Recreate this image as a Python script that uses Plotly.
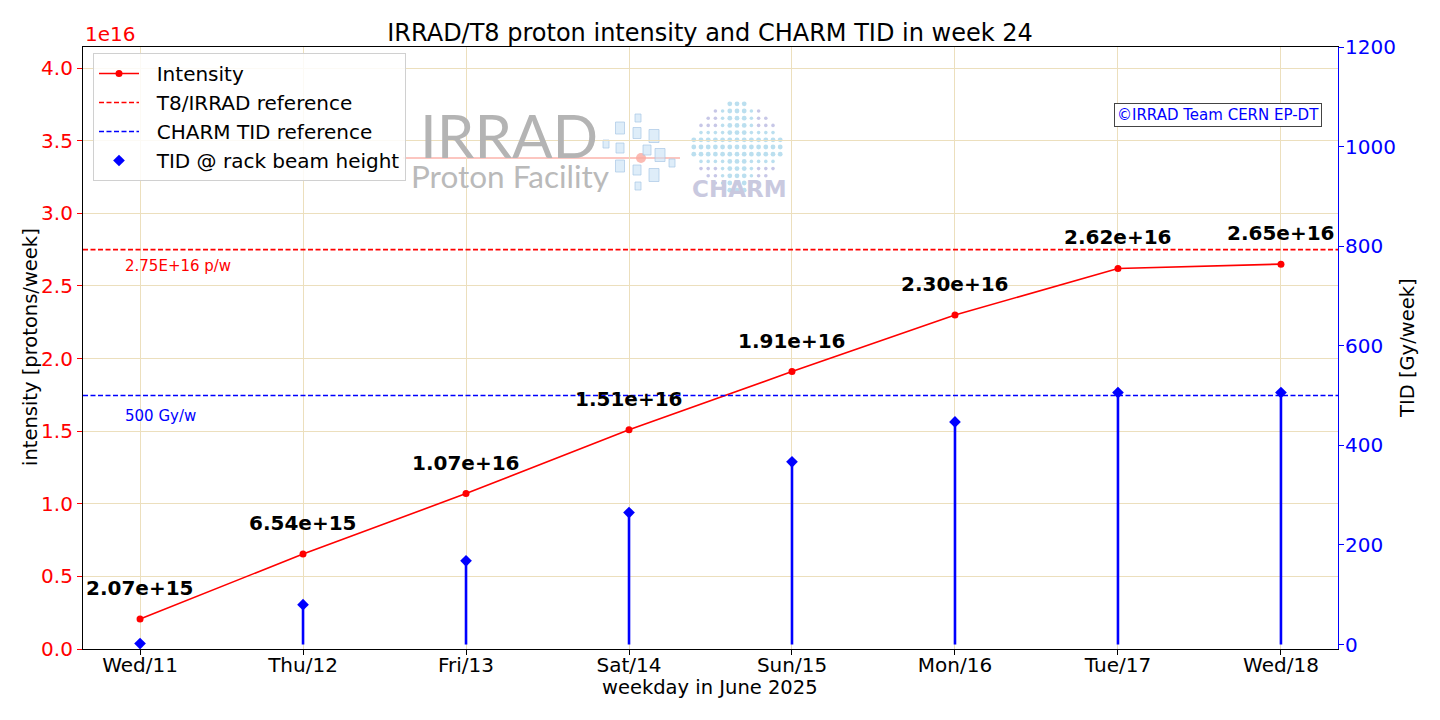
import plotly.graph_objects as go

# ---------------- data ----------------
days = ["Wed/11", "Thu/12", "Fri/13", "Sat/14", "Sun/15", "Mon/16", "Tue/17", "Wed/18"]
intensity = [2.07e15, 6.54e15, 1.07e16, 1.51e16, 1.91e16, 2.30e16, 2.62e16, 2.65e16]
tid = [2, 80, 168, 265, 367, 447, 506, 506]
intensity_ref = 2.75e16
tid_ref = 500
intensity_ref_label = "2.75E+16 p/w"
tid_ref_label = "500 Gy/w"
left_ticks = [0.0, 0.5, 1.0, 1.5, 2.0, 2.5, 3.0, 3.5, 4.0]
left_ticklabels = ["0.0", "0.5", "1.0", "1.5", "2.0", "2.5", "3.0", "3.5", "4.0"]
right_ticks = [0, 200, 400, 600, 800, 1000, 1200]
scale = 1e16

# ---------------- layout helpers ----------------
W, H = 1440, 720
L, R, T, B = 83, 1338, 47, 649


def px(x):
    return (x - L) / (R - L)


def py(y):
    return (B - y) / (B - T)


FONT = "DejaVu Sans"
GRID = "#ecdfbd"
DASH = "5px,2.5px"
PAD = "\u00a0\u00a0"

fig = go.Figure()

fig.add_trace(go.Scatter(
    x=days, y=intensity, mode="lines+markers", name=PAD + "Intensity",
    line=dict(color="red", width=1.6), marker=dict(color="red", size=7),
    yaxis="y", legendgroup="a",
))
# legend-only entries for reference lines
fig.add_trace(go.Scatter(
    x=[None], y=[None], mode="lines", name=PAD + "T8/IRRAD reference",
    line=dict(color="red", width=1.6, dash=DASH), yaxis="y", legendgroup="b",
))
fig.add_trace(go.Scatter(
    x=[None], y=[None], mode="lines", name=PAD + "CHARM TID reference",
    line=dict(color="blue", width=1.6, dash=DASH), yaxis="y", legendgroup="c",
))
fig.add_trace(go.Scatter(
    x=days, y=tid, mode="markers", name=PAD + "TID @ rack beam height",
    marker=dict(color="blue", size=9, symbol="diamond"),
    error_y=dict(type="data", symmetric=False, array=[0] * len(tid),
                 arrayminus=tid, width=0, thickness=2.6, color="blue"),
    yaxis="y2", legendgroup="d",
))

shapes = [
    dict(type="line", xref="paper", x0=0, x1=1, yref="y", y0=intensity_ref, y1=intensity_ref,
         line=dict(color="red", width=1.6, dash=DASH), layer="above"),
    dict(type="line", xref="paper", x0=0, x1=1, yref="y2", y0=tid_ref, y1=tid_ref,
         line=dict(color="blue", width=1.6, dash=DASH), layer="above"),
]

annotations = []
for d, v in zip(days, intensity):
    annotations.append(dict(
        x=d, y=v, xref="x", yref="y", text=f"{v:.2e}", showarrow=False,
        yshift=31, font=dict(family=FONT, size=20, color="black", weight="bold"),
    ))

annotations += [
    dict(xref="paper", yref="y", x=px(123), y=intensity_ref, text=intensity_ref_label,
         showarrow=False, xanchor="left", yanchor="middle", yshift=-16,
         font=dict(family=FONT, size=15, color="red")),
    dict(xref="paper", yref="y2", x=px(123), y=tid_ref, text=tid_ref_label,
         showarrow=False, xanchor="left", yanchor="middle", yshift=-20,
         font=dict(family=FONT, size=15, color="blue")),
    dict(xref="paper", yref="paper", x=px(1218), y=py(114.5), text="©IRRAD Team CERN EP-DT",
         showarrow=False, xanchor="center", yanchor="middle",
         font=dict(family=FONT, size=15, color="blue"), bordercolor="#444444",
         borderwidth=1, borderpad=2, bgcolor="white"),
    dict(xref="paper", yref="paper", x=0, y=1, text="1e16", showarrow=False,
         xanchor="left", yanchor="bottom", yshift=-1,
         font=dict(family=FONT, size=20, color="red")),
    # axis titles
    dict(xref="paper", yref="paper", x=px(30), y=py(347), text="intensity [protons/week]",
         showarrow=False, textangle=-90, xanchor="center", yanchor="middle",
         font=dict(family=FONT, size=19.5, color="black")),
    dict(xref="paper", yref="paper", x=px(1407), y=py(348), text="TID [Gy/week]",
         showarrow=False, textangle=-90, xanchor="center", yanchor="middle",
         font=dict(family=FONT, size=19.5, color="black")),
    dict(xref="paper", yref="paper", x=px(710), y=py(687), text="weekday in June 2025",
         showarrow=False, xanchor="center", yanchor="middle",
         font=dict(family=FONT, size=19.5, color="black")),
    # logo text (watermark)
    dict(xref="paper", yref="paper", x=px(509), y=py(135), text="IRRAD", showarrow=False,
         xanchor="center", yanchor="middle", height=48,
         font=dict(family="Lato", size=60, color="#b4b4b4", weight=400)),
    dict(xref="paper", yref="paper", x=px(510), y=py(176), text="Proton Facility", showarrow=False,
         xanchor="center", yanchor="middle", height=32,
         font=dict(family="Lato", size=31.5, color="#bababa", weight=400)),
    dict(xref="paper", yref="paper", x=px(739), y=py(189), text="CHARM", showarrow=False,
         xanchor="center", yanchor="middle",
         font=dict(family=FONT, size=23, color="#c9c9df", weight="bold")),
]

# logo decoration: beam line + small tiles + dotted sphere
shapes.append(dict(type="line", xref="paper", yref="paper", x0=px(403), x1=px(680), y0=py(158), y1=py(158),
                   line=dict(color="rgba(250,160,150,0.6)", width=2), layer="below"))
shapes.append(dict(type="circle", xref="paper", yref="paper", x0=px(636), x1=px(646), y0=py(153), y1=py(163),
                   fillcolor="rgba(250,170,160,0.8)", line=dict(width=0), layer="below"))
tiles = [(620, 128, 9, 12), (638, 118, 6, 8), (654, 136, 10, 13), (637, 133, 8, 11), (606, 144, 6, 8),
         (620, 148, 8, 10), (660, 155, 10, 13), (620, 166, 9, 12), (637, 170, 8, 10), (654, 175, 10, 13),
         (672, 163, 6, 8), (638, 186, 6, 8), (647, 150, 8, 10)]
for (cx, cy, w, h) in tiles:
    shapes.append(dict(type="rect", xref="paper", yref="paper", x0=px(cx - w / 2), x1=px(cx + w / 2),
                       y0=py(cy + h / 2), y1=py(cy - h / 2), fillcolor="rgba(200,225,245,0.6)",
                       line=dict(color="rgba(170,200,230,0.7)", width=1), layer="below"))
scx, scy, srad = 737, 147, 46
for i in range(-6, 7):
    for j in range(-6, 7):
        dx, dy = i * 7.2, j * 7.2
        if dx * dx + dy * dy > srad * srad * 0.95:
            continue
        r = 2.4 if (abs(i) < 2 or abs(j) < 2) else 1.8
        col = "rgba(170,215,235,0.8)" if (abs(i) < 3 or abs(j) < 3) else "rgba(185,185,225,0.8)"
        shapes.append(dict(type="circle", xref="paper", yref="paper",
                           x0=px(scx + dx - r), x1=px(scx + dx + r),
                           y0=py(scy + dy + r), y1=py(scy + dy - r),
                           fillcolor=col, line=dict(width=0), layer="below"))

fig.update_layout(
    width=W, height=H,
    margin=dict(l=L, r=W - R, t=T, b=H - B),
    paper_bgcolor="white", plot_bgcolor="white",
    font=dict(family=FONT, size=19, color="black"),
    title=dict(text="IRRAD/T8 proton intensity and CHARM TID in week 24",
               x=710 / W, xanchor="center",
               y=1 - 33 / H, yanchor="middle", yref="container",
               font=dict(family=FONT, size=24, color="black")),
    xaxis=dict(
        type="category", range=[-0.35, len(days) - 1 + 0.35],
        showgrid=True, gridcolor=GRID, gridwidth=1,
        showline=True, linecolor="black", linewidth=1.2, mirror=True,
        ticks="outside", ticklen=5, tickcolor="black", ticklabelstandoff=-7,
        tickfont=dict(family=FONT, size=20, color="black"),
        zeroline=False, automargin=False,
    ),
    yaxis=dict(
        range=[0, 4.145e16],
        tickvals=[t * scale for t in left_ticks], ticktext=left_ticklabels,
        showgrid=True, gridcolor=GRID, gridwidth=1,
        showline=True, linecolor="black", linewidth=1.2,
        ticks="outside", ticklen=5, tickcolor="red",
        tickfont=dict(family=FONT, size=20, color="red"),
        zeroline=False, automargin=False,
    ),
    yaxis2=dict(
        range=[-9, 1200], overlaying="y", side="right",
        tickvals=right_ticks,
        showgrid=False,
        showline=True, linecolor="blue", linewidth=1.2,
        ticks="outside", ticklen=5, tickcolor="blue", ticklabelstandoff=-3,
        tickfont=dict(family=FONT, size=20, color="blue"),
        zeroline=False, automargin=False,
    ),
    legend=dict(
        x=px(93), y=py(53), xanchor="left", yanchor="top",
        bgcolor="rgba(255,255,255,0.85)", bordercolor="#d0d0d0", borderwidth=1,
        font=dict(family=FONT, size=20, color="black"),
        tracegroupgap=0, itemwidth=40,
    ),
    shapes=shapes,
    annotations=annotations,
    showlegend=True,
)

fig.write_html("out.html", config={"displayModeBar": False},
               post_script="document.body.style.margin='0';document.body.style.padding='0';")
